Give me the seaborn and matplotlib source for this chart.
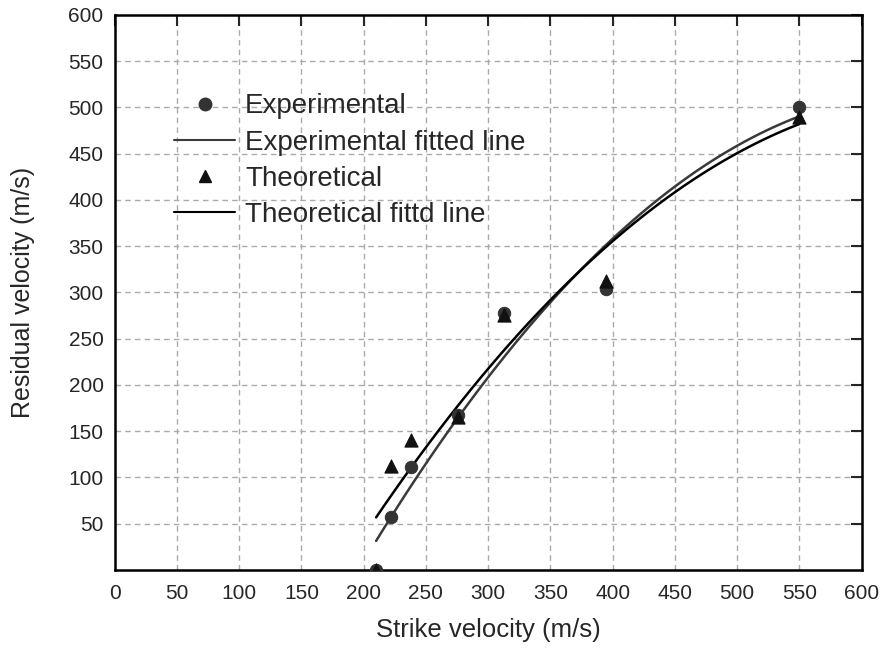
import matplotlib
matplotlib.use("Agg")
import matplotlib.pyplot as plt
from matplotlib.lines import Line2D
from matplotlib.ticker import MultipleLocator
import pandas as pd
import seaborn as sns

exp_strike = [210, 222, 238, 276, 313, 395, 550]
exp_residual = [0, 57, 111, 167, 278, 304, 500]
theo_strike = [210, 222, 238, 276, 313, 395, 550]
theo_residual = [0, 112, 140, 165, 276, 312, 490]

x_ticks = list(range(0, 601, 50))
y_ticks = list(range(50, 601, 50))

exp_df = pd.DataFrame({"strike": exp_strike, "residual": exp_residual})
theo_df = pd.DataFrame({"strike": theo_strike, "residual": theo_residual})

sns.set_style("white")
plt.rcParams["font.family"] = ["Liberation Sans", "DejaVu Sans"]

fig, ax = plt.subplots(figsize=(8.82, 6.52), dpi=100)
fig.subplots_adjust(left=0.130, right=0.977, top=0.977, bottom=0.126)

# fitted curves (2nd order)
sns.regplot(data=exp_df, x="strike", y="residual", order=2, ci=None, scatter=False,
            truncate=True, color="#3a3a3a", line_kws={"lw": 1.8}, ax=ax)
sns.regplot(data=theo_df, x="strike", y="residual", order=2, ci=None, scatter=False,
            truncate=True, color="black", line_kws={"lw": 1.8}, ax=ax)

sns.scatterplot(data=exp_df, x="strike", y="residual", marker="o", s=80,
                color="#333333", edgecolor="#333333", ax=ax, zorder=3)
sns.scatterplot(data=theo_df, x="strike", y="residual", marker="^", s=90,
                color="#111111", edgecolor="#111111", ax=ax, zorder=3)

ax.set_xlim(0, 600)
ax.set_ylim(0, 600)
ax.set_xticks(x_ticks)
ax.set_yticks(y_ticks)
ax.xaxis.set_minor_locator(MultipleLocator(25))
ax.yaxis.set_minor_locator(MultipleLocator(25))
ax.grid(True, which="major", linestyle=(0, (4, 3)), color="#aaaaaa", lw=1)
ax.tick_params(axis="both", which="major", direction="in", length=8, width=1.5,
               labelsize=15, top=True, right=True)
ax.tick_params(axis="x", which="major", pad=10)
ax.tick_params(axis="y", which="major", pad=8)
ax.tick_params(axis="both", which="minor", direction="in", length=5, width=1.5,
               top=False, right=False)
for sp in ax.spines.values():
    sp.set_color("black")
    sp.set_linewidth(1.8)

ax.set_xlabel("Strike velocity (m/s)", fontsize=18.5, labelpad=11)
ax.set_ylabel("Residual velocity (m/s)", fontsize=18, labelpad=24)

handles = [
    Line2D([], [], marker="o", ls="none", color="#333333", markersize=9),
    Line2D([], [], color="#3a3a3a", lw=1.5),
    Line2D([], [], marker="^", ls="none", color="#111111", markersize=9),
    Line2D([], [], color="black", lw=1.5),
]
labels = ["Experimental", "Experimental fitted line", "Theoretical", "Theoretical fittd line"]
ax.legend(handles, labels, loc="upper left", bbox_to_anchor=(0.065, 0.879), frameon=False,
          fontsize=20, handlelength=2.2, handletextpad=0.35, labelspacing=0.37,
          borderaxespad=0)

fig.savefig("out.png", dpi=100)
